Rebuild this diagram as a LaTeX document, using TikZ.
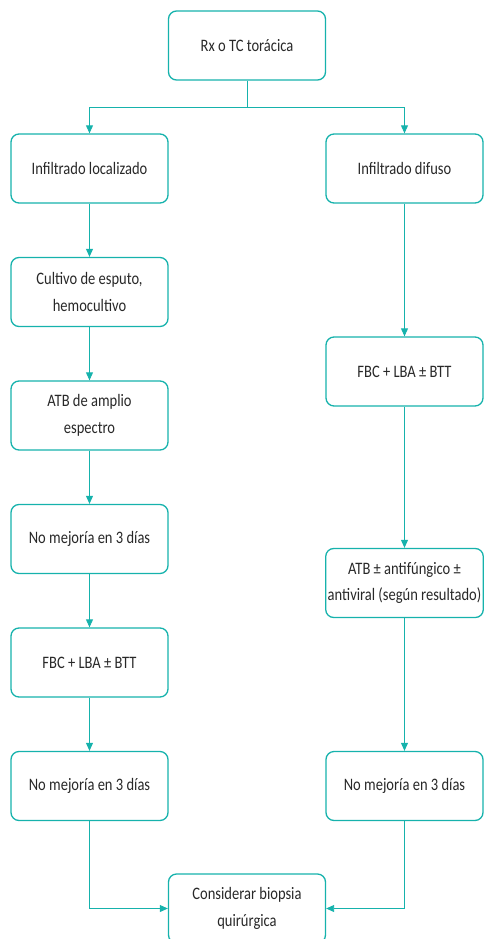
\documentclass[tikz,border=0pt]{standalone}
\usepackage{fontspec}
\setmainfont{Carlito}[FakeStretch=0.83]
\usetikzlibrary{arrows.meta}
\definecolor{teal1}{RGB}{22,178,172}
\definecolor{txt}{RGB}{40,40,40}
\begin{document}
\begin{tikzpicture}[x=1pt,y=-1pt,
  box/.style={draw=teal1,line width=1.3pt,rounded corners=8pt,minimum width=157pt,minimum height=69pt,
    inner sep=2pt,align=center,text=txt,font=\fontsize{17.5}{26.5}\selectfont},
  conn/.style={draw=teal1,line width=0.9pt,-{Triangle[width=7pt,length=8pt]}},
  seg/.style={draw=teal1,line width=0.9pt}]
\useasboundingbox (0,0) rectangle (485,939);
\clip (0,0) rectangle (485,939);
\node[box] (top) at (247,45.5) {Rx o TC torácica};
\node[box] (l1) at (89.5,168.5) {Infiltrado localizado};
\node[box] (l2) at (89.5,292) {Cultivo de esputo,\\hemocultivo};
\node[box] (l3) at (89.5,415.5) {ATB de amplio\\espectro};
\node[box] (l4) at (89.5,539) {No mejoría en 3 días};
\node[box] (l5) at (89.5,662.5) {FBC + LBA ± BTT};
\node[box] (l6) at (89.5,786) {No mejoría en 3 días};
\node[box] (r1) at (404.5,168.5) {Infiltrado difuso};
\node[box] (r2) at (404.5,371.5) {FBC + LBA ± BTT};
\node[box] (r3) at (404.5,583) {ATB ± antifúngico ±\\antiviral (según resultado)};
\node[box] (r4) at (404.5,786) {No mejoría en 3 días};
\node[box] (bio) at (247,908.5) {Considerar biopsia\\quirúrgica};
\coordinate (split) at (247,107);
\draw[seg] (top.south) -- (split);
\draw[conn] (split) -| (l1.north);
\draw[conn] (split) -| (r1.north);
\draw[conn] (l1) -- (l2);
\draw[conn] (l2) -- (l3);
\draw[conn] (l3) -- (l4);
\draw[conn] (l4) -- (l5);
\draw[conn] (l5) -- (l6);
\draw[conn] (r1) -- (r2);
\draw[conn] (r2) -- (r3);
\draw[conn] (r3) -- (r4);
\draw[conn] (l6.south) |- (bio.west);
\draw[conn] (r4.south) |- (bio.east);
\end{tikzpicture}
\end{document}
